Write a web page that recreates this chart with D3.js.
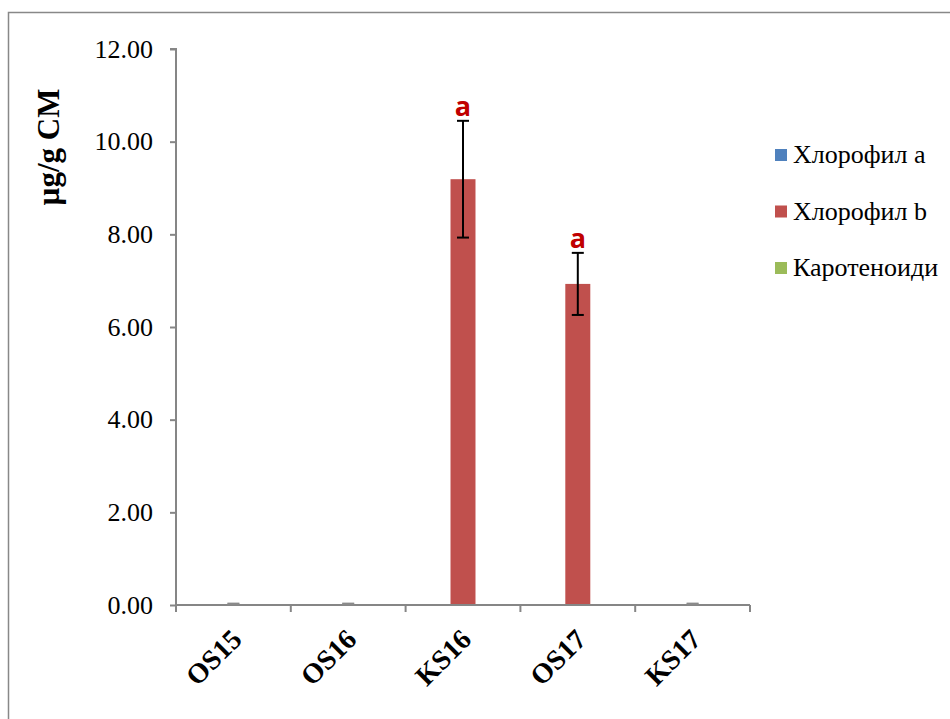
<!DOCTYPE html>
<html>
<head>
<meta charset="utf-8">
<script src="https://cdn.jsdelivr.net/npm/d3@7"></script>
<style>
  html, body { margin: 0; padding: 0; background: #fff; }
  svg { display: block; }
</style>
</head>
<body>
<svg id="chart" width="950" height="719"></svg>
<script>
// Samples on the x axis
const categories = ["OS15", "OS16", "KS16", "OS17", "KS17"];
// Pigment series (µg/g CM)
const seriesNames = ["Хлорофил a", "Хлорофил b", "Каротеноиди"];
const chlA = [0, 0, 0, 0, 0];
const chlB = [0.02, 0.02, 9.19, 6.93, 0.02];
const carot = [0, 0, 0, 0, 0];
// Standard deviations for Хлорофил b
const chlBErr = [0.01, 0.01, 1.26, 0.67, 0.01];
// Significance letters above Хлорофил b bars
const chlBLetters = ["", "", "a", "a", ""];
// Y axis ticks
const yTicks = [0, 2, 4, 6, 8, 10, 12];

const colors = ["#4F81BD", "#C0504D", "#9BBB59"];
const seriesValues = [chlA, chlB, carot];
const serif = "'Liberation Serif', 'Times New Roman', serif";

const svg = d3.select("#chart");

// Outer frame
svg.append("path")
  .attr("d", "M8.5,719 V12.5 H950")
  .attr("fill", "none")
  .attr("stroke", "#888")
  .attr("stroke-width", 1.5);

const plot = { left: 176, right: 750, top: 49, bottom: 605 };

const y = d3.scaleLinear().domain([0, 12]).range([plot.bottom, plot.top]);
const pad = 0.347;
const x0 = d3.scaleBand().domain(categories)
  .range([plot.left, plot.right])
  .paddingInner(pad).paddingOuter(pad / 2);
const x1 = d3.scaleBand().domain(d3.range(seriesNames.length))
  .range([0, x0.bandwidth()]);

// Y axis
const yAxis = d3.axisLeft(y)
  .tickValues(yTicks)
  .tickFormat(d3.format(".2f"))
  .tickSize(6)
  .tickPadding(17);
const gy = svg.append("g")
  .attr("transform", `translate(${plot.left},0)`)
  .call(yAxis)
  .attr("font-family", serif)
  .attr("font-size", 26);
gy.select(".domain").attr("stroke", "#868686").attr("stroke-width", 2)
  .attr("d", `M-6,${plot.top}H0V${plot.bottom}`);
gy.selectAll(".tick line").attr("stroke", "#868686").attr("stroke-width", 2);
gy.selectAll(".tick text").attr("fill", "#000");

// Y axis title
svg.append("text")
  .attr("transform", "translate(59,147) rotate(-90)")
  .attr("text-anchor", "middle")
  .attr("font-family", serif)
  .attr("font-weight", "bold")
  .attr("font-size", 31)
  .text("µg/g CM");

// Bars
const groups = svg.append("g").selectAll("g")
  .data(categories)
  .join("g")
  .attr("transform", d => `translate(${x0(d)},0)`);

groups.selectAll("rect")
  .data((c, i) => seriesValues.map((vals, s) => ({ s, v: vals[i] })))
  .join("rect")
  .attr("x", d => x1(d.s))
  .attr("width", x1.bandwidth())
  .attr("y", d => y(d.v))
  .attr("height", d => y(0) - y(d.v))
  .attr("fill", d => colors[d.s]);

// X axis line and category separators
const gx = svg.append("g");
gx.append("line")
  .attr("x1", plot.left).attr("x2", plot.right)
  .attr("y1", y(0)).attr("y2", y(0))
  .attr("stroke", "#868686").attr("stroke-width", 2);
const step = x0.step();
gx.selectAll("line.sep")
  .data(d3.range(categories.length + 1))
  .join("line")
  .attr("class", "sep")
  .attr("x1", i => plot.left + i * step)
  .attr("x2", i => plot.left + i * step)
  .attr("y1", y(0)).attr("y2", y(0) + 7)
  .attr("stroke", "#868686").attr("stroke-width", 2);

// X labels, rotated
svg.append("g").selectAll("text")
  .data(categories)
  .join("text")
  .attr("transform", d => `translate(${x0(d) + x0.bandwidth() / 2 + 10},${y(0) + 36}) rotate(-45)`)
  .attr("text-anchor", "end")
  .attr("font-family", serif)
  .attr("font-weight", "bold")
  .attr("font-size", 28)
  .text(d => d);

// Error bars for Хлорофил b
const capW = 12;
const eb = svg.append("g").attr("stroke", "#000").attr("stroke-width", 2);
categories.forEach((c, i) => {
  const cx = x0(c) + x1(1) + x1.bandwidth() / 2;
  const top = y(chlB[i] + chlBErr[i]);
  const bot = y(chlB[i] - chlBErr[i]);
  const small = chlBErr[i] < 0.1;
  const g = eb.append("g").attr("stroke", small ? "#8a8a8a" : "#000");
  g.append("line").attr("x1", cx).attr("x2", cx).attr("y1", top).attr("y2", bot);
  g.append("line").attr("x1", cx - capW / 2).attr("x2", cx + capW / 2).attr("y1", top).attr("y2", top);
  g.append("line").attr("x1", cx - capW / 2).attr("x2", cx + capW / 2).attr("y1", bot).attr("y2", bot);
});

// Significance letters
svg.append("g").selectAll("text")
  .data(categories.map((c, i) => ({ c, i })).filter(d => chlBLetters[d.i]))
  .join("text")
  .attr("x", d => x0(d.c) + x1(1) + x1.bandwidth() / 2)
  .attr("y", d => y(chlB[d.i] + chlBErr[d.i]) - 5)
  .attr("text-anchor", "middle")
  .attr("font-family", "'Open Sans', 'Liberation Sans', sans-serif")
  .attr("font-weight", "bold")
  .attr("font-size", 27)
  .attr("fill", "#C00000")
  .text(d => chlBLetters[d.i]);

// Legend
const legend = svg.append("g").attr("transform", "translate(775,155)");
const rowH = 56.5;
const items = legend.selectAll("g")
  .data(seriesNames)
  .join("g")
  .attr("transform", (d, i) => `translate(0,${i * rowH})`);
items.append("rect")
  .attr("x", 0).attr("y", -6)
  .attr("width", 12).attr("height", 12)
  .attr("fill", (d, i) => colors[i]);
items.append("text")
  .attr("x", 18).attr("y", 8)
  .attr("font-family", serif)
  .attr("font-size", 26)
  .text(d => d);
</script>
</body>
</html>
